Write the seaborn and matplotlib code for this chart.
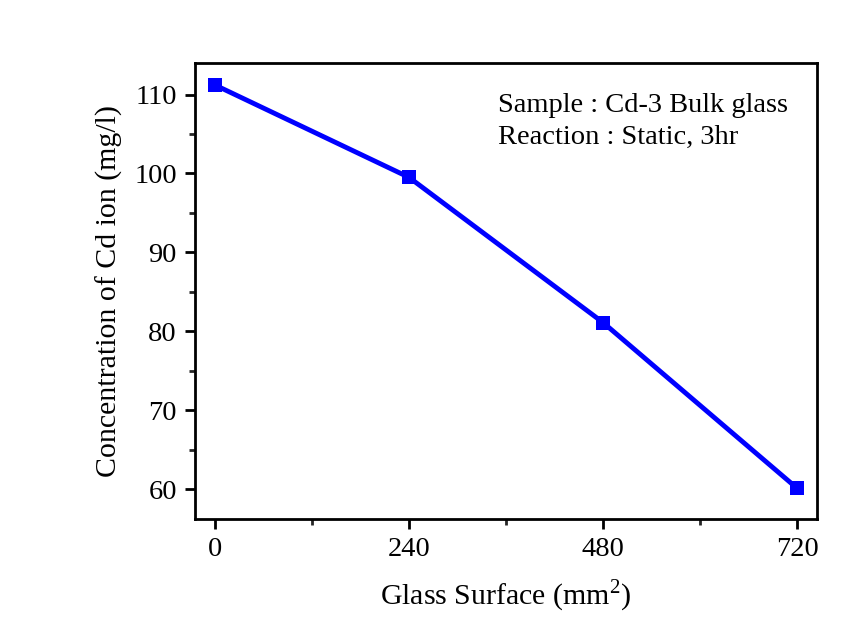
import numpy as np
import pandas as pd
import matplotlib
matplotlib.use('Agg')
import matplotlib.pyplot as plt
from matplotlib.ticker import MultipleLocator
import seaborn as sns

surface = [0, 240, 480, 720]
cd_conc = [111.2, 99.5, 81.1, 60.1]

df = pd.DataFrame({'surface': surface, 'conc': cd_conc})

sns.set_style('ticks')
plt.rcParams['font.family'] = ['Liberation Serif', 'DejaVu Serif']
plt.rcParams['mathtext.fontset'] = 'custom'
plt.rcParams['mathtext.rm'] = 'Liberation Serif'
plt.rcParams['text.color'] = 'black'
plt.rcParams['axes.labelcolor'] = 'black'

fig = plt.figure(figsize=(8.63, 6.24), dpi=100)
ax = fig.add_axes([0.226, 0.1683, 0.7207, 0.7308])

sns.lineplot(data=df, x='surface', y='conc', ax=ax, color='#0000ff',
             linewidth=3.5, marker='s', markersize=10, markeredgewidth=0)

ax.set_xlim(-24.7, 744.7)
ax.set_ylim(56.2, 114.0)
ax.xaxis.set_major_locator(MultipleLocator(240))
ax.xaxis.set_minor_locator(MultipleLocator(120))
ax.yaxis.set_major_locator(MultipleLocator(10))
ax.yaxis.set_minor_locator(MultipleLocator(5))

for s in ax.spines.values():
    s.set_linewidth(2)
    s.set_color('black')
ax.tick_params(which='major', direction='out', length=7, width=2,
               labelsize=20.5, colors='black', pad=6)
ax.tick_params(which='minor', direction='out', length=4, width=2)

ax.set_xlabel('Glass Surface (mm$^2$)', fontsize=21.5, labelpad=11, color='black')
ax.set_ylabel('Concentration of Cd ion (mg/l)', fontsize=21.5, labelpad=8, color='black')

ax.text(0.487, 0.935, 'Sample : Cd-3 Bulk glass\nReaction : Static, 3hr',
        transform=ax.transAxes, fontsize=20.5, va='top', ha='left',
        linespacing=1.4, color='black')

fig.savefig('out.png', dpi=100)
